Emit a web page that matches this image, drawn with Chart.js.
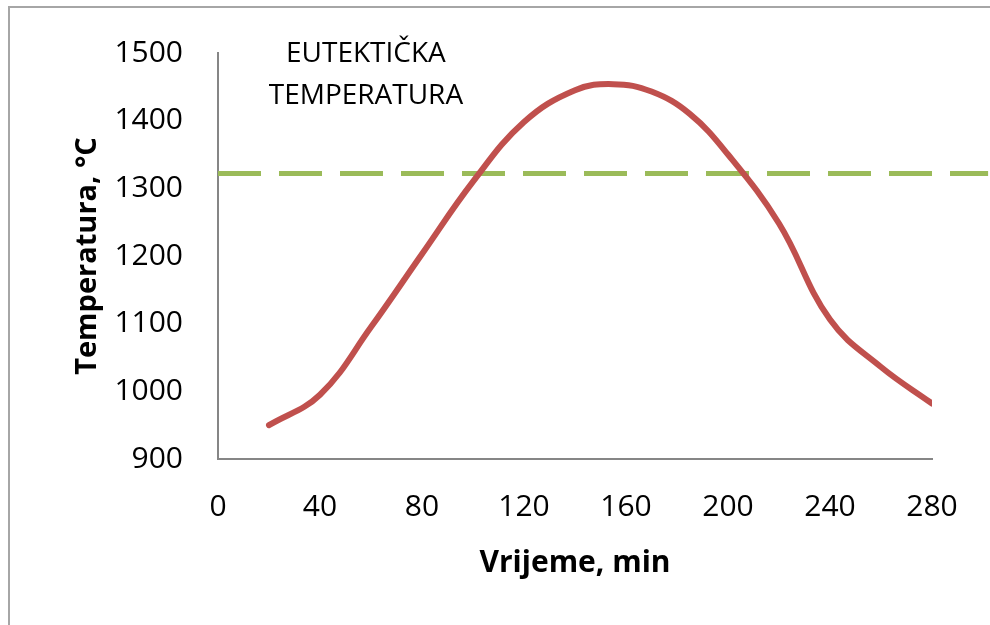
<!DOCTYPE html>
<html>
<head>
<meta charset="utf-8">
<script src="https://cdn.jsdelivr.net/npm/chart.js@4"></script>
<style>
  html, body { margin: 0; padding: 0; background: #fff; }
  #wrap { position: relative; width: 990px; height: 625px; overflow: hidden; }
  #frame { position: absolute; left: 8px; top: 6px; width: 1000px; height: 700px;
           border-left: 2px solid #a6a6a6; border-top: 2px solid #a6a6a6; }
  canvas { position: absolute; left: 0; top: 0; }
</style>
</head>
<body>
<div id="wrap">
  <div id="frame"></div>
  <canvas id="grafikon" width="990" height="625"></canvas>
</div>
<script>
// vrijeme (min) i temperatura (°C)
const vrijeme = [20, 40, 60, 80, 100, 120, 140, 155, 170, 185, 200, 220, 240, 260, 280];
const temperatura = [950, 995, 1095, 1203, 1310, 1398, 1445, 1454, 1443, 1410, 1350, 1248, 1106, 1036, 982];

// eutektička temperatura - proteže se do ruba slike
const eutektikX = [0, 302];
const eutektikY = [1322, 1322];

const xTicks = [0, 40, 80, 120, 160, 200, 240, 280];
const yTicks = [900, 1000, 1100, 1200, 1300, 1400, 1500];

const font = "'Open Sans', 'Liberation Sans', sans-serif";
const boja = '#000';

const natpis = {
    id: 'natpis',
    afterDraw(chart) {
        const ctx = chart.ctx;
        const x = chart.scales.x.getPixelForValue(58);
        const y = chart.scales.y.getPixelForValue(1500);
        ctx.save();
        ctx.font = "28px " + font;
        ctx.fillStyle = boja;
        ctx.textAlign = 'center';
        ctx.textBaseline = 'middle';
        ctx.fillText('EUTEKTIČKA', x, y + 1);
        ctx.fillText('TEMPERATURA', x, y + 43);
        ctx.restore();
    }
};

new Chart(document.getElementById('grafikon'), {
    type: 'line',
    data: {
        datasets: [{
            data: vrijeme.map((v, i) => ({ x: v, y: temperatura[i] })),
            borderColor: '#c0504d',
            borderWidth: 6,
            borderCapStyle: 'round',
            pointRadius: 0,
            tension: 0.4
        }, {
            data: eutektikX.map((v, i) => ({ x: v, y: eutektikY[i] })),
            borderColor: '#9bbb59',
            borderWidth: 5,
            borderDash: [43, 18],
            pointRadius: 0,
            clip: false
        }]
    },
    options: {
        responsive: false,
        animation: false,
        layout: { padding: { top: 46, right: 58, left: 0, bottom: 0 } },
        plugins: {
            legend: { display: false },
            tooltip: { enabled: false }
        },
        scales: {
            x: {
                type: 'linear',
                min: 0,
                max: 280,
                afterBuildTicks: s => { s.ticks = xTicks.map(v => ({ value: v })); },
                afterFit: s => { s.height = 166; },
                grid: { display: false, drawTicks: false },
                border: { display: true, color: '#868686', width: 2 },
                ticks: { color: boja, padding: 30, font: { family: font, size: 30 }, callback: v => String(v) },
                title: {
                    display: true,
                    text: 'Vrijeme, min',
                    color: boja,
                    padding: { top: 0, bottom: 44 },
                    font: { family: font, size: 30, weight: 'bold' }
                }
            },
            y: {
                min: 900,
                max: 1500,
                afterBuildTicks: s => { s.ticks = yTicks.map(v => ({ value: v })); },
                afterFit: s => { s.width = 218; },
                grid: { display: false, drawTicks: false },
                border: { display: true, color: '#868686', width: 2 },
                ticks: { color: boja, padding: 35, font: { family: font, size: 30 }, callback: v => String(v) },
                title: {
                    display: true,
                    text: 'Temperatura, °C',
                    color: boja,
                    padding: { top: 70, bottom: 0 },
                    font: { family: font, size: 29, weight: 'bold' }
                }
            }
        }
    },
    plugins: [natpis]
});
</script>
</body>
</html>
